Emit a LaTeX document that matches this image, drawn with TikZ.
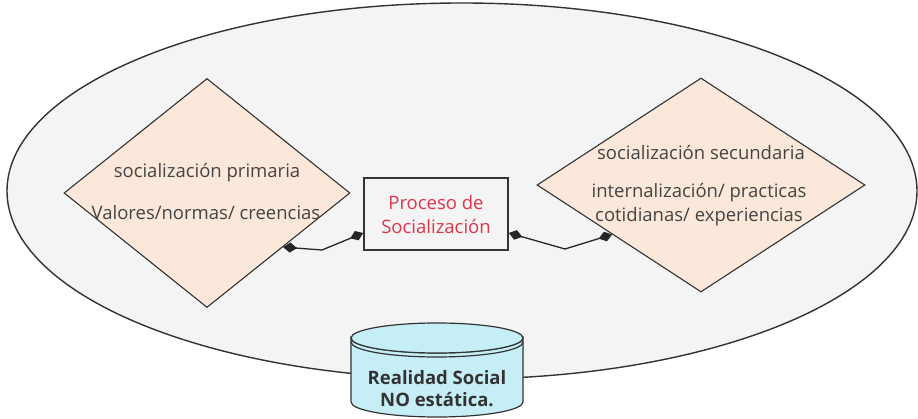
\documentclass[tikz,border=0pt]{standalone}
\usepackage{fontspec}
\setmainfont{Open Sans}
\usetikzlibrary{shapes.geometric,arrows.meta,calc}
\definecolor{bg}{HTML}{F4F4F4}
\definecolor{peach}{HTML}{FCE8DA}
\definecolor{cyl}{HTML}{C6EEF7}
\definecolor{ink}{HTML}{333333}
\definecolor{txt}{HTML}{444444}
\definecolor{redtxt}{HTML}{E0344A}
\begin{document}
\begin{tikzpicture}[x=1pt,y=-1pt,
  every node/.style={inner sep=0pt},
  ln/.style={draw=ink, line width=1.4pt},
  dia/.style={diamond, draw=ink, fill=peach, line width=1.1pt},
  lbl/.style={text=txt, font=\fontsize{18.5}{24}\selectfont, align=center},
  conn/.style={draw=black!85, line width=1.3pt, {Diamond[length=14pt,width=10pt]}-{Diamond[length=14pt,width=10pt]}}
]
\useasboundingbox (0,0) rectangle (918,419);
\fill[white] (0,0) rectangle (918,419);
\node[ellipse, ln, fill=bg, minimum width=910, minimum height=376] (E) at (462,191) {};

\node[dia, minimum width=286, minimum height=229] (L) at (207,193) {};
\node[dia, minimum width=328, minimum height=214] (R) at (701,185) {};

\node[lbl] (Lt1) at (207,173) {socialización primaria};
\node[lbl] (Lt2) at (206,213) {Valores/normas/ creencias};
\node[lbl] (Rt1) at (701,153) {socialización secundaria};
\node[lbl] (Rt2) at (699,205) {internalización/ practicas\\cotidianas/ experiencias};

\node[draw=ink, line width=1.6pt, minimum width=144, minimum height=72] (P) at (436,214) {};
\node[text=redtxt, font=\fontsize{18.5}{24}\selectfont, align=center] (Pt) at (436,215) {Proceso de\\Socialización};

\coordinate (c1) at (322,250);
\coordinate (c2) at (565,249);
\draw[conn] ($(L.east)!0.47!(L.south)$) -- (c1) -- ($(P.west)+(0,19)$);
\draw[conn] ($(P.east)+(0,19)$) -- (c2) -- ($(R.west)!0.46!(R.south)$);

% cylinder
\coordinate (C) at (437,338);
\draw[ln, line width=1.2pt, fill=cyl] (351,338) -- (351,402) arc[start angle=180, end angle=0, x radius=86, y radius=15] -- (523,338) arc[start angle=0, end angle=180, x radius=86, y radius=15] -- cycle;
\draw[ln, line width=1.2pt, fill=cyl] (C) ellipse [x radius=86, y radius=15];
\draw[ln, line width=1.2pt] (351,342) arc[start angle=180, end angle=0, x radius=86, y radius=15];
\node[text=ink, font=\bfseries\fontsize{18.5}{22}\selectfont, align=center] (Ct) at (437,389) {Realidad Social\\NO estática.};
\end{tikzpicture}
\end{document}
